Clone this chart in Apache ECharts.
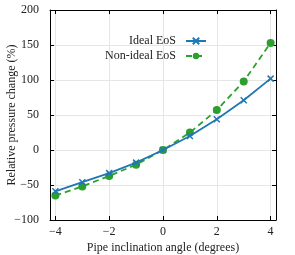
<!DOCTYPE html>
<html>
<head>
<meta charset="utf-8">
<script src="https://cdn.jsdelivr.net/npm/echarts@6/dist/echarts.min.js"></script>
<style>html,body{margin:0;padding:0;background:#fff}#c{width:295px;height:255px}</style>
</head>
<body>
<div id="c"></div>
<script>
const angles = [-4, -3, -2, -1, 0, 1, 2, 3, 4];
const idealEoS = [-59, -46, -33, -18, 0, 20, 44, 71, 102];
const nonIdealEoS = [-65, -52, -37, -21, 0, 25, 57, 98, 153];
const xTicks = [-4, -2, 0, 2, 4];
const seriesNames = ['Ideal EoS', 'Non-ideal EoS'];

const font = 'Liberation Serif';
const blue = '#1f77b4';
const green = '#2ca02c';
const gridColor = '#e6e6e6';

const chart = echarts.init(document.getElementById('c'), null, {renderer: 'canvas'});

function xAxisDef(pos, showLabel) {
  return {
    type: 'value', position: pos, min: -4.2, max: 4.2,
    axisLine: {show: true, onZero: false, lineStyle: {color: '#000', width: 1}},
    axisTick: {show: true, inside: true, length: 4, customValues: xTicks, lineStyle: {color: '#000'}},
    axisLabel: {show: showLabel, customValues: xTicks, fontFamily: font, fontSize: 12, color: '#222', margin: 6,
      formatter: v => (v < 0 ? '\u2212' + Math.abs(v) : String(v))},
    splitLine: {show: showLabel, customValues: xTicks, lineStyle: {color: gridColor, width: 1}},
    name: showLabel ? 'Pipe inclination angle (degrees)' : '',
    nameLocation: 'middle', nameGap: 22, nameMoveOverlap: false,
    nameTextStyle: {fontFamily: font, fontSize: 12, color: '#222'}
  };
}
function yAxisDef(pos, showLabel) {
  return {
    type: 'value', position: pos, min: -100, max: 200, interval: 50,
    axisLine: {show: true, onZero: false, lineStyle: {color: '#000', width: 1}},
    axisTick: {show: true, inside: true, length: 4, lineStyle: {color: '#000'}},
    axisLabel: {show: showLabel, fontFamily: font, fontSize: 12, color: '#222', margin: 11,
      formatter: v => (v < 0 ? '\u2212' + Math.abs(v) : String(v))},
    splitLine: {show: showLabel, lineStyle: {color: gridColor, width: 1}},
    name: showLabel ? 'Relative pressure change (%)' : '',
    nameLocation: 'middle', nameGap: 32, nameMoveOverlap: false,
    nameTextStyle: {fontFamily: font, fontSize: 12, color: '#222'}
  };
}

const crossPath = 'path://M0,0L10,10M10,0L0,10';

chart.setOption({
  animation: false,
  backgroundColor: '#fff',
  grid: {left: 50, right: 19, top: 10, bottom: 35, outerBoundsMode: 'none', containLabel: false},
  xAxis: [xAxisDef('bottom', true), xAxisDef('top', false)],
  yAxis: [yAxisDef('left', true), yAxisDef('right', false)],
  legend: {
    right: 83, top: 30, orient: 'vertical', align: 'right',
    itemWidth: 20, itemHeight: 8, itemGap: 3,
    textStyle: {fontFamily: font, fontSize: 12, color: '#222', padding: [0, 5, 0, 0]},
    data: seriesNames
  },
  series: [
    {
      name: seriesNames[0], type: 'line',
      data: angles.map((a, i) => [a, idealEoS[i]]),
      color: blue,
      lineStyle: {color: blue, width: 1.8},
      symbol: crossPath, symbolSize: 6,
      itemStyle: {color: blue, borderColor: blue, borderWidth: 1.5},
      z: 3
    },
    {
      name: seriesNames[1], type: 'line',
      data: angles.map((a, i) => [a, nonIdealEoS[i]]),
      color: green,
      lineStyle: {color: green, width: 1.8, type: [6, 4]},
      symbol: 'circle', symbolSize: 8,
      itemStyle: {color: green},
      z: 2
    }
  ]
});
</script>
</body>
</html>
